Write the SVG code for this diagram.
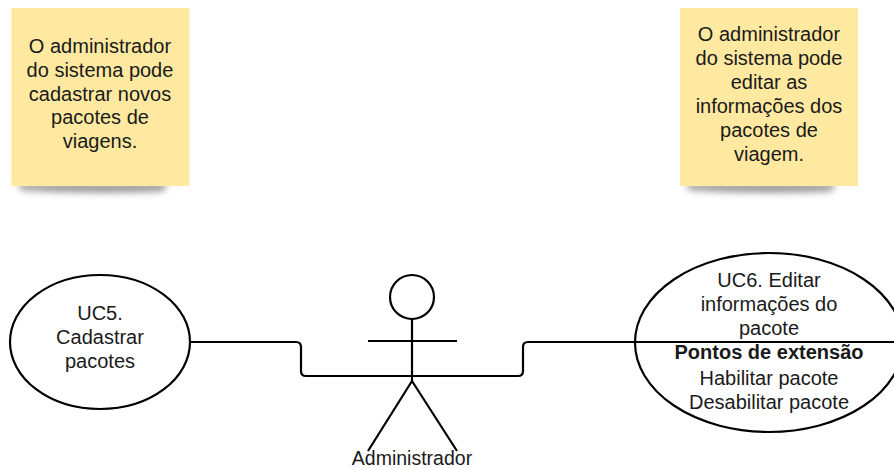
<svg xmlns="http://www.w3.org/2000/svg" width="894" height="469" viewBox="0 0 894 469">
<style>
text{font-family:"Liberation Sans",Arial,sans-serif;font-size:20px;fill:#1a1a1a;text-anchor:middle}
.l{fill:none;stroke:#000;stroke-width:2.2}
.e{fill:#fff;stroke:#000;stroke-width:2.2}
.n{fill:#ffe9a0}
.h{fill:#8a8a8a}
</style>
<defs><filter id="s" x="-20%" y="-100%" width="140%" height="300%"><feGaussianBlur stdDeviation="3.500"/></filter></defs>
<rect width="894" height="469" fill="#fff"/>
<g id="note1"><path class="h" d="M17 184H168L163 191Q90 194 22 190Z" filter="url(#s)"/><rect class="n" x="11.500" y="8" width="178" height="178"/>
<text x="100" y="53">O administrador</text><text x="100" y="77">do sistema pode</text><text x="100" y="101">cadastrar novos</text><text x="100" y="124">pacotes de</text><text x="100" y="148">viagens.</text></g>
<g id="note2"><path class="h" d="M685 184H836L831 191Q760 194 690 190Z" filter="url(#s)"/><rect class="n" x="680" y="8" width="178" height="178"/>
<text x="769" y="41">O administrador</text><text x="769" y="65">do sistema pode</text><text x="769" y="89">editar as</text><text x="769" y="113">informações dos</text><text x="769" y="137">pacotes de</text><text x="769" y="161">viagem.</text></g>
<g id="connectors"><path class="l" d="M190 342H296Q301 342 301 347V371Q301 376 306 376H518Q523 376 523 371V347Q523 342 528 342H635"/></g>
<g id="uc5"><ellipse class="e" cx="100" cy="342" rx="90" ry="67"/><text x="100" y="320">UC5.</text><text x="100" y="344">Cadastrar</text><text x="100" y="368">pacotes</text></g>
<g id="actor"><circle class="e" cx="412" cy="297" r="22"/><path class="l" d="M412 319V381M368 341H457M412 381L368 451M412 381L457 451"/><text x="412" y="464.800" style="font-size:19.500px">Administrador</text></g>
<g id="uc6"><ellipse class="e" cx="769" cy="342.500" rx="134" ry="89.500"/><path class="l" d="M635 342H894"/><text x="769" y="287">UC6. Editar</text><text x="769" y="311">informações do</text><text x="769" y="335">pacote</text><text x="769" y="359" font-weight="700">Pontos de extensão</text><text x="769" y="385">Habilitar pacote</text><text x="769" y="409">Desabilitar pacote</text></g>
</svg>
